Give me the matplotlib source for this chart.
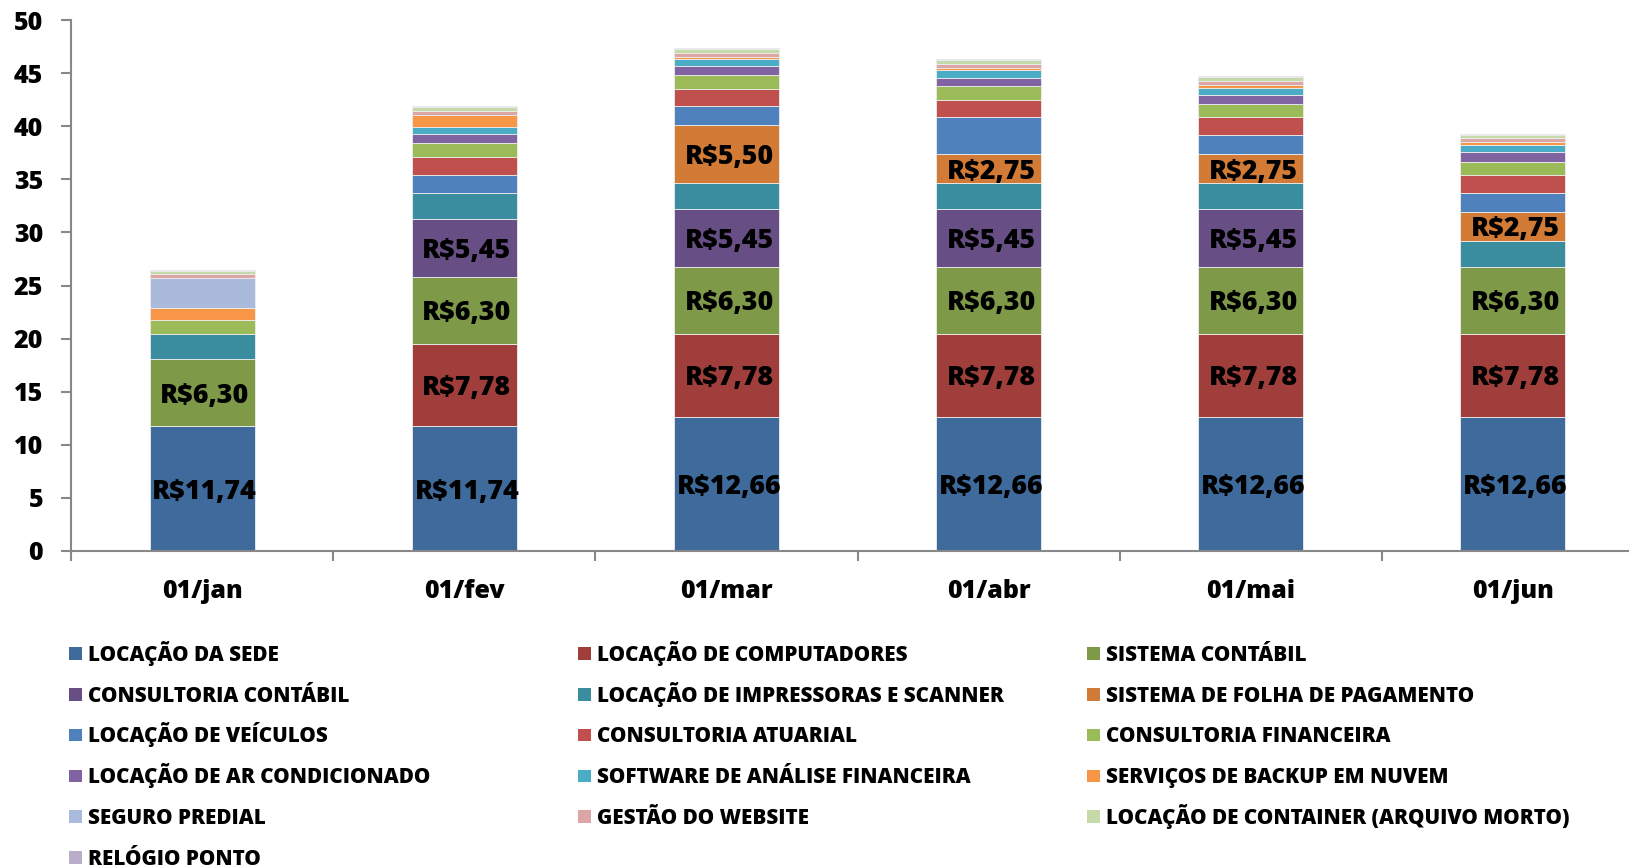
import matplotlib
matplotlib.use("Agg")
import matplotlib.pyplot as plt
from matplotlib.patches import Rectangle
import numpy as np

plt.rcParams['font.family'] = ['Open Sans', 'DejaVu Sans']
plt.rcParams['font.weight'] = 'bold'

categories = ["01/jan", "01/fev", "01/mar", "01/abr", "01/mai", "01/jun"]

series_names = [
    "LOCAÇÃO DA SEDE", "LOCAÇÃO DE COMPUTADORES", "SISTEMA CONTÁBIL",
    "CONSULTORIA CONTÁBIL", "LOCAÇÃO DE IMPRESSORAS E SCANNER", "SISTEMA DE FOLHA DE PAGAMENTO",
    "LOCAÇÃO DE VEÍCULOS", "CONSULTORIA ATUARIAL", "CONSULTORIA FINANCEIRA",
    "LOCAÇÃO DE AR CONDICIONADO", "SOFTWARE DE ANÁLISE FINANCEIRA", "SERVIÇOS DE BACKUP EM NUVEM",
    "SEGURO PREDIAL", "GESTÃO DO WEBSITE", "LOCAÇÃO DE CONTAINER (ARQUIVO MORTO)",
    "RELÓGIO PONTO",
]

locacao_sede = [11.74, 11.74, 12.66, 12.66, 12.66, 12.66]
locacao_computadores = [0, 7.78, 7.78, 7.78, 7.78, 7.78]
sistema_contabil = [6.30, 6.30, 6.30, 6.30, 6.30, 6.30]
consultoria_contabil = [0, 5.45, 5.45, 5.45, 5.45, 0]
locacao_impressoras = [2.40, 2.45, 2.45, 2.45, 2.45, 2.45]
sistema_folha = [0, 0, 5.50, 2.75, 2.75, 2.75]
locacao_veiculos = [0, 1.70, 1.75, 3.45, 1.78, 1.80]
consultoria_atuarial = [0, 1.66, 1.65, 1.63, 1.67, 1.70]
consultoria_financeira = [1.30, 1.30, 1.28, 1.30, 1.25, 1.22]
locacao_ar = [0, 0.86, 0.85, 0.80, 0.85, 0.88]
software_analise = [0, 0.64, 0.69, 0.70, 0.69, 0.66]
backup_nuvem = [1.13, 1.16, 0.16, 0.25, 0.25, 0.28]
seguro_predial = [2.80, 0, 0, 0, 0, 0]
gestao_website = [0.40, 0.41, 0.40, 0.38, 0.38, 0.38]
locacao_container = [0.30, 0.37, 0.32, 0.31, 0.34, 0.34]
relogio_ponto = [0.08, 0.08, 0.08, 0.08, 0.08, 0.08]

series_values = [
    locacao_sede, locacao_computadores, sistema_contabil, consultoria_contabil,
    locacao_impressoras, sistema_folha, locacao_veiculos, consultoria_atuarial,
    consultoria_financeira, locacao_ar, software_analise, backup_nuvem,
    seguro_predial, gestao_website, locacao_container, relogio_ponto,
]

colors = [
    "#3F6A9C", "#A03E3B", "#7E9A48", "#674F86", "#3A8C9F", "#D27B36",
    "#4F81BD", "#C0504D", "#9BBB59", "#8064A2", "#4BACC6", "#F79646",
    "#A9BADB", "#DBA6A5", "#C5D9A9", "#B9ADCA",
]

labeled_series = [0, 1, 2, 3, 5]

W, H = 1629, 868
fig = plt.figure(figsize=(W / 100, H / 100), dpi=100)
ax_left, ax_right = 71 / W, 1644 / W
ax_bottom, ax_top = 1 - 551 / H, 1 - 20 / H
ax = fig.add_axes([ax_left, ax_bottom, ax_right - ax_left, ax_top - ax_bottom])

x = np.arange(len(categories))
bottom = np.zeros(len(categories))
for i, (vals, col) in enumerate(zip(series_values, colors)):
    vals = np.array(vals, dtype=float)
    ax.bar(x, vals, 0.40, bottom=bottom, color=col, edgecolor="#EDEDED", linewidth=0.6, zorder=2)
    if i in labeled_series:
        for xi, v, b in zip(x, vals, bottom):
            if v > 0:
                ax.text(xi + 0.01, b + v / 2, "R$" + f"{v:.2f}".replace(".", ","),
                        ha="center", va="center_baseline", fontsize=19.3, fontweight="heavy",
                        color="black", zorder=3)
    bottom += vals

ax.set_xlim(-0.5, len(categories) - 0.5)
ax.set_ylim(0, 50)
ax.set_yticks(np.arange(0, 51, 5))
ax.set_xticks(x)
ax.set_xticklabels(categories)
ax.set_xticks(np.arange(-0.5, len(categories), 1.0), minor=True)

for s in ["top", "right"]:
    ax.spines[s].set_visible(False)
for s in ["left", "bottom"]:
    ax.spines[s].set_color("#888888")
    ax.spines[s].set_linewidth(1.5)

ax.tick_params(axis="y", which="major", length=7, width=1.5, color="#888888",
               labelsize=18, pad=13, labelcolor="black")
ax.tick_params(axis="x", which="major", length=0, labelsize=18, pad=20, labelcolor="black")
ax.tick_params(axis="x", which="minor", length=7, width=1.5, color="#888888")
for lab in ax.get_xticklabels() + ax.get_yticklabels():
    lab.set_fontweight("heavy")

# legend (row-major, 3 columns)
col_x = [69, 578, 1087]
row0_y = 653.5
row_dy = 40.8
sq = 12.7
leg_fs = 14.9
cap_px = 0.714 * leg_fs * 100 / 72
for i, (name, col) in enumerate(zip(series_names, colors)):
    r, c = divmod(i, 3)
    yc = row0_y + r * row_dy
    fig.add_artist(Rectangle((col_x[c] / W, 1 - (yc + sq / 2) / H), sq / W, sq / H,
                             transform=fig.transFigure, facecolor=col, edgecolor="none"))
    fig.text((col_x[c] + 19) / W, 1 - (yc + cap_px / 2) / H, name, ha="left", va="baseline",
             fontsize=leg_fs, fontweight="heavy", color="black")

fig.savefig("out.png", dpi=100)
